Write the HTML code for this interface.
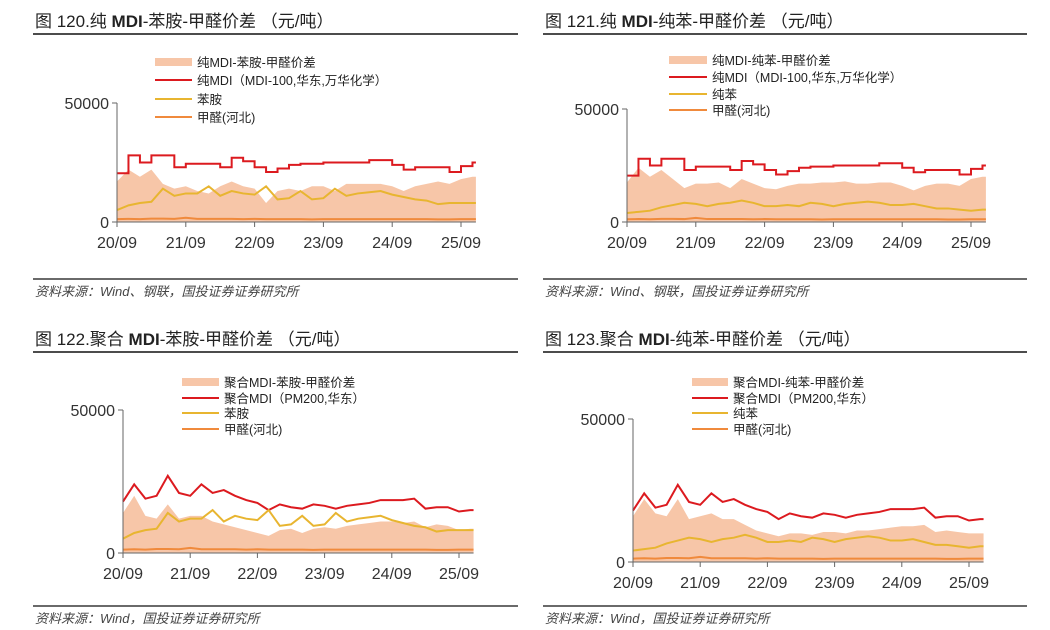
<!DOCTYPE html>
<html><head><meta charset="utf-8">
<style>
body{margin:0;background:#fff;width:1050px;height:630px;overflow:hidden;font-family:"Liberation Sans","Noto Sans CJK SC",sans-serif;}
svg{position:absolute;left:0;top:0}
text{font-family:"Liberation Sans","Noto Sans CJK SC",sans-serif;}
</style></head><body>
<svg id="chart" width="1050" height="630"></svg>
<script>
// bi-monthly samples 20/09 .. 25/11
const tickLabels = ["20/09","21/09","22/09","23/09","24/09","25/09"];
const pureMdi = [20500,28000,25000,28000,28000,23000,24500,24500,24500,23000,27000,25500,23000,21000,22500,24000,24500,24500,25000,25000,25000,25000,26000,26000,24000,22000,23000,23000,23000,21000,23500,25000];
const aniline = [5000,7000,8000,8500,14000,11000,12000,12000,15000,11000,13000,12000,11500,15000,9500,10000,13000,9500,10000,14000,11000,12000,12500,13000,11500,10500,9500,9000,7500,8000,8000,8000];
const formaldehyde = [1200,1300,1200,1400,1400,1300,1800,1300,1300,1300,1300,1200,1300,1200,1200,1200,1200,1100,1200,1200,1200,1200,1200,1200,1200,1200,1200,1200,1100,1100,1200,1200];
const benzene = [4000,4500,5000,6500,7500,8500,8000,7000,8000,8500,9500,8500,7000,7000,7500,7000,8500,8000,7000,8000,8500,9000,8500,7500,7500,8000,7000,6000,6000,5500,5000,5500];
const polyMdi = [18000,24000,19000,20000,27000,21000,20000,24000,21000,22000,20000,18500,17500,15000,17000,16000,15500,17000,16500,15500,16500,17000,17500,18500,18500,18500,19000,15500,16000,16000,14500,15000];
const spreadPureAniline = [17000,22000,19000,22000,16000,14000,15000,13000,12000,15000,17000,15000,14000,8000,13000,14000,13000,15000,15000,13000,16000,16000,16000,16000,15000,13000,15000,16000,17000,16000,18000,19000];
const spreadPureBenzene = [17500,24000,20000,23000,19000,15000,17000,17000,17500,15000,19000,17000,15000,14500,16000,17000,17000,17500,17500,18000,17000,17000,17500,17500,16000,14000,16000,17000,17000,16000,19000,20000];
const spreadPolyAniline = [14000,20000,13000,12000,17000,12000,13000,13000,11000,10000,9000,8000,7000,6000,8000,8500,7000,8500,9000,8500,9500,10000,10500,11000,11000,10500,11000,9000,10000,9500,8000,8500];
const spreadPolyBenzene = [16000,22000,17000,16000,22000,15000,16000,17000,15000,15000,13000,11000,10000,9000,10000,10000,9500,10500,10500,10000,11000,11000,11500,12000,12500,12500,13000,10500,11000,10500,10000,10000];

const NS="http://www.w3.org/2000/svg";
const svg=document.getElementById('chart');
function mk(tag,attrs,parent){const e=document.createElementNS(NS,tag);for(const k in attrs)e.setAttribute(k,attrs[k]);(parent||svg).appendChild(e);return e;}
const RED="#dc1a1f",YEL="#e8b530",ORG="#f08a3c",FILL="#f7c6a8";

function panel(p){
  const g=mk('g',{});
  
  
  const t=mk('text',{x:p.tx,y:p.ty,'font-size':17,fill:'#222'},g);
  
  
  const parts=p.title.split('MDI');
  const s1=mk('tspan',{},t); s1.textContent=parts[0];
  const s2=mk('tspan',{'font-weight':'bold'},t); s2.textContent='MDI';
  const s3=mk('tspan',{},t); s3.textContent=parts[1];
  const r1=mk('line',{x1:p.rx1,x2:p.rx2,y1:p.ry1,y2:p.ry1,stroke:'#111','stroke-width':1.5},g);
  
  
  const r2=mk('line',{x1:p.rx1,x2:p.rx2,y1:p.ry2,y2:p.ry2,stroke:'#111','stroke-width':1.2},g);
  
  
  const s=mk('text',{x:p.tx,y:p.ry2+17,'font-size':13,fill:'#444','font-style':'italic'},g);
  s.textContent=p.source;
  
  
  const yS=v=>p.y0-(v/50000)*(p.y0-p.y1);
  const step=(p.t5-p.x0)/5/6;
  const xS=i=>p.x0+i*step;
  let d=`M${xS(0)},${yS(0)}`;
  p.spread.forEach((v,i)=>{ d+=`L${xS(i)},${yS(v)}`;});
  d+=`L${xS(p.spread.length-1)+step*0.3},${yS(p.spread[p.spread.length-1])}L${xS(p.spread.length-1)+step*0.3},${yS(0)}Z`;
  const a=mk('path',{d:d,fill:FILL},g);
  
  
  function line(arr,col,stepped,name){
    let dd='';
    arr.forEach((v,i)=>{
      if(i===0) dd+=`M${xS(0)},${yS(v)}`;
      else if(stepped) dd+=`L${xS(i)},${yS(arr[i-1])}L${xS(i)},${yS(v)}`;
      else dd+=`L${xS(i)},${yS(v)}`;
    });
    dd+=`L${xS(arr.length-1)+step*0.3},${yS(arr[arr.length-1])}`;
    const l=mk('path',{d:dd,fill:'none',stroke:col,'stroke-width':2},g);
    
    
  }
  line(p.mdi,RED,p.stepped,'mdi-price-line');
  line(p.raw,YEL,false,'raw-material-line');
  line(formaldehyde,ORG,false,'formaldehyde-line');
  const ax=mk('line',{x1:p.x0,x2:p.x0,y1:p.y1,y2:p.y0,stroke:'#666','stroke-width':1},g);
  
  
  const bx=mk('line',{x1:p.x0-5,x2:xS(31)+step*0.3,y1:p.y0,y2:p.y0,stroke:'#666','stroke-width':1},g);
  
  
  [0,50000].forEach(v=>{
    const tk=mk('line',{x1:p.x0-5,x2:p.x0,y1:yS(v),y2:yS(v),stroke:'#666'},g);
    
    
    const tl=mk('text',{x:p.x0-8,y:yS(v)+6,'font-size':16,'text-anchor':'end',fill:'#333'},g);
    tl.textContent=String(v);
    
    
  });
  tickLabels.forEach((lb,k)=>{
    const x=xS(k*6);
    const tk=mk('line',{x1:x,x2:x,y1:p.y0,y2:p.y0+5,stroke:'#666'},g);
    
    
    const tl=mk('text',{x:x,y:p.y0+26,'font-size':16,'text-anchor':'middle',fill:'#333'},g);
    tl.textContent=lb;
    
    
  });
  p.legend.forEach((lb,k)=>{
    const y=p.ly[k];
    if(k===0){
      const sw=mk('rect',{x:p.lx,y:y-4,width:p.lw,height:8,fill:FILL},g);
      
      
    } else {
      const sw=mk('line',{x1:p.lx,x2:p.lx+p.lw,y1:y,y2:y,stroke:[RED,YEL,ORG][k-1],'stroke-width':2},g);
      
      
    }
    const lt=mk('text',{x:p.lx+p.lw+5,y:y+5,'font-size':12.5,fill:'#222'},g);
    lt.textContent=lb;
    
    
  });
}

panel({name:'panel-pure-mdi-aniline',title:'图 120.纯 MDI-苯胺-甲醛价差 （元/吨）',tx:35,ty:27,rx1:33,rx2:518,ry1:34,ry2:279,
  source:'资料来源：Wind、钢联，国投证券证券研究所',x0:117,t5:461,y0:222,y1:103,
  spread:spreadPureAniline,mdi:pureMdi,raw:aniline,stepped:true,
  legend:['纯MDI-苯胺-甲醛价差','纯MDI（MDI-100,华东,万华化学）','苯胺','甲醛(河北)'],lx:155,lw:37,ly:[62,80,99,117]});
panel({name:'panel-pure-mdi-benzene',title:'图 121.纯 MDI-纯苯-甲醛价差 （元/吨）',tx:545,ty:27,rx1:543,rx2:1027,ry1:34,ry2:279,
  source:'资料来源：Wind、钢联，国投证券证券研究所',x0:627,t5:971,y0:222,y1:109,
  spread:spreadPureBenzene,mdi:pureMdi,raw:benzene,stepped:true,
  legend:['纯MDI-纯苯-甲醛价差','纯MDI（MDI-100,华东,万华化学）','纯苯','甲醛(河北)'],lx:669,lw:38,ly:[60,77,94,110]});
panel({name:'panel-poly-mdi-aniline',title:'图 122.聚合 MDI-苯胺-甲醛价差 （元/吨）',tx:35,ty:345,rx1:33,rx2:518,ry1:352,ry2:606,
  source:'资料来源：Wind，国投证券证券研究所',x0:123,t5:459,y0:553,y1:410,
  spread:spreadPolyAniline,mdi:polyMdi,raw:aniline,stepped:false,
  legend:['聚合MDI-苯胺-甲醛价差','聚合MDI（PM200,华东）','苯胺','甲醛(河北)'],lx:182,lw:37,ly:[382,398,413,429]});
panel({name:'panel-poly-mdi-benzene',title:'图 123.聚合 MDI-纯苯-甲醛价差 （元/吨）',tx:545,ty:345,rx1:543,rx2:1027,ry1:352,ry2:606,
  source:'资料来源：Wind，国投证券证券研究所',x0:633,t5:969,y0:562,y1:419,
  spread:spreadPolyBenzene,mdi:polyMdi,raw:benzene,stepped:false,
  legend:['聚合MDI-纯苯-甲醛价差','聚合MDI（PM200,华东）','纯苯','甲醛(河北)'],lx:692,lw:36,ly:[382,398,413,429]});
</script>
</body></html>
